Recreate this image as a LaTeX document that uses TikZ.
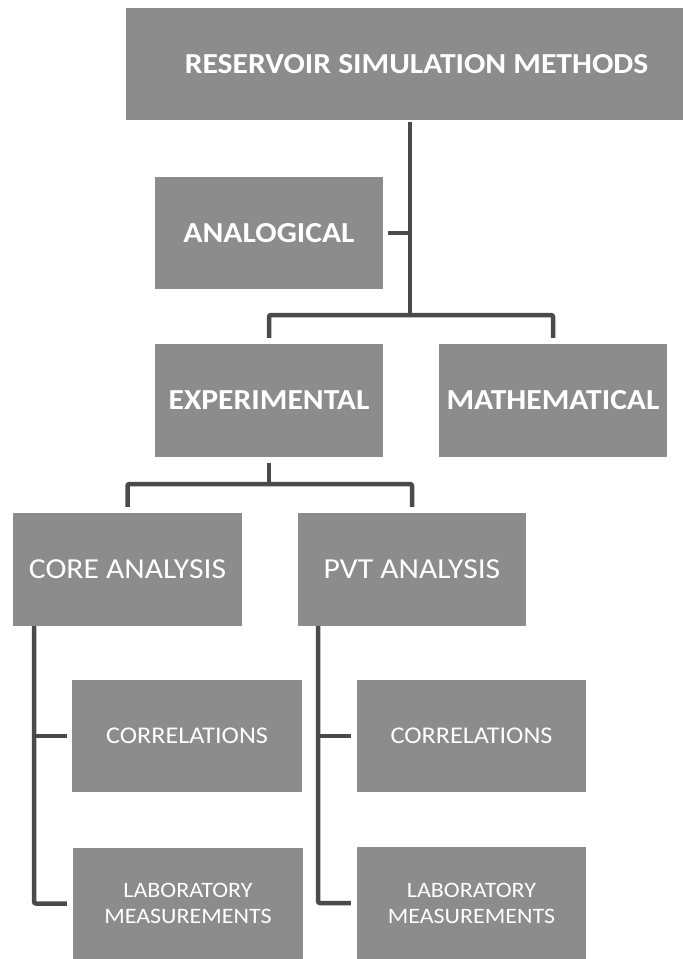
\documentclass[tikz,border=0pt]{standalone}
\usepackage{fontspec}
\usepackage{graphicx}
\setmainfont{Carlito}
\definecolor{boxgray}{HTML}{8C8C8C}
\definecolor{linegray}{HTML}{4A4A4A}
\newcommand\sx[1]{\scalebox{1.09}[1]{#1}}
\begin{document}
\begin{tikzpicture}[x=1pt,y=-1pt,
  box/.style={fill=boxgray, draw=none, text=white, inner sep=0pt, anchor=center},
  bigbox/.style={box, font=\bfseries\fontsize{29}{34}\selectfont},
  midbox/.style={box, font=\fontsize{29}{34}\selectfont},
  smallbox/.style={box, font=\fontsize{24}{28}\selectfont},
  labbox/.style={box, font=\fontsize{22}{26}\selectfont, align=center},
  conn/.style={draw=linegray, line width=4.5pt, rounded corners=2pt}]
\useasboundingbox[fill=white] (0,0) rectangle (683,959);
% boxes
\node[bigbox, minimum width=557, minimum height=112] (top) at (404.5,64) {\hspace{24pt}\sx{RESERVOIR SIMULATION METHODS}};
\node[bigbox, minimum width=228, minimum height=112] (analog) at (269,233) {\sx{ANALOGICAL}};
\node[bigbox, minimum width=228, minimum height=113] (exper) at (269,400.5) {\sx{EXPERIMENTAL}};
\node[bigbox, minimum width=228, minimum height=113] (math) at (553,400.5) {\sx{MATHEMATICAL}};
\node[midbox, minimum width=229, minimum height=113] (core) at (127.5,569.5) {\sx{CORE ANALYSIS}};
\node[midbox, minimum width=228, minimum height=113] (pvt) at (412,569.5) {\sx{PVT ANALYSIS}};
\node[smallbox, minimum width=230, minimum height=112] (corrL) at (187,736) {\sx{CORRELATIONS}};
\node[labbox, minimum width=230, minimum height=111] (labL) at (188,903.5) {\sx{LABORATORY}\\\sx{MEASUREMENTS}};
\node[smallbox, minimum width=229, minimum height=112] (corrR) at (471.5,736) {\sx{CORRELATIONS}};
\node[labbox, minimum width=229, minimum height=112] (labR) at (471.5,903) {\sx{LABORATORY}\\\sx{MEASUREMENTS}};
% junctions
\coordinate (j1) at (410,315);
\coordinate (j2) at (269,484);
\coordinate (cL) at (34,0);
\coordinate (cR) at (318,0);
% connectors
\draw[conn] ([yshift=-2pt]top.south -| j1) -- (j1);
\draw[conn] ([xshift=5pt]analog.east) -- (analog.east -| j1);
\draw[conn] ([yshift=6pt]exper.north) |- (j1) -| ([yshift=6pt]math.north);
\draw[conn] ([yshift=-6pt]exper.south) -- (j2);
\draw[conn] ([yshift=6pt]core.north) |- (j2) -| ([yshift=6pt]pvt.north);
\draw[conn] (core.south -| cL) |- ([xshift=-6pt]labL.west);
\draw[conn] (cL |- corrL.west) -- ([xshift=-5pt]corrL.west);
\draw[conn] (pvt.south -| cR) |- ([xshift=-6pt]labR.west);
\draw[conn] (cR |- corrR.west) -- ([xshift=-6pt]corrR.west);
\end{tikzpicture}
\end{document}
